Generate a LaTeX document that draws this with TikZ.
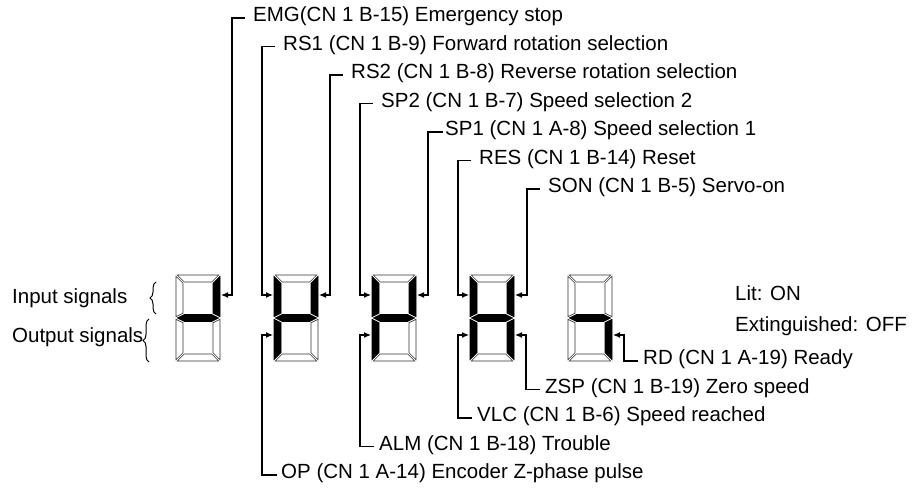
\documentclass[tikz,border=0pt]{standalone}
\usepackage{fontspec}
\setmainfont{Liberation Sans}
\usetikzlibrary{arrows.meta,decorations.pathreplacing}
\tikzset{
  segoff/.style={draw=black!80, line width=0.6pt, fill=white},
  segon/.style={draw=black, line width=0.6pt, fill=black},
  conn/.style={draw=black, line width=1.2pt, -{Latex[length=7pt,width=6pt]}},
  lbl/.style={anchor=west, inner xsep=8pt, inner ysep=0pt, text height=0.72em, text depth=0pt, font=\fontsize{20.5}{24}\selectfont},
  plain/.style={anchor=west, inner sep=0pt, text height=0.72em, text depth=0pt, font=\fontsize{20.5}{24}\selectfont},
  bracestyle/.style={draw=black, line width=1pt, decorate, decoration={brace, amplitude=6pt}}
}
% digit: #1 = left x, #2..#8 = styles of segments a b c d e f g
\newcommand\segdigit[8]{%
  \begin{scope}[shift={(#1,275)}]
    \def\W{44}\def\H{86}\def\T{7}\def\G{1.3}\def\M{43}
    \path[#2] (\G,0) -- (\W-\G,0) -- (\W-\T-\G,\T) -- (\T+\G,\T) -- cycle;
    \path[#3] (\W,\G) -- (\W,\M-\G) -- (\W-\T,\M-\T/2-\G) -- (\W-\T,\T+\G) -- cycle;
    \path[#4] (\W,\M+\G) -- (\W-\T,\M+\T/2+\G) -- (\W-\T,\H-\T-\G) -- (\W,\H-\G) -- cycle;
    \path[#5] (\G,\H) -- (\W-\G,\H) -- (\W-\T-\G,\H-\T) -- (\T+\G,\H-\T) -- cycle;
    \path[#6] (0,\M+\G) -- (\T,\M+\T/2+\G) -- (\T,\H-\T-\G) -- (0,\H-\G) -- cycle;
    \path[#7] (0,\G) -- (0,\M-\G) -- (\T,\M-\T/2-\G) -- (\T,\T+\G) -- cycle;
    \path[#8] (\G,\M) -- (\T+\G,\M-\T/2) -- (\W-\T-\G,\M-\T/2) -- (\W-\G,\M) -- (\W-\T-\G,\M+\T/2) -- (\T+\G,\M+\T/2) -- cycle;
  \end{scope}}
\begin{document}
\begin{tikzpicture}[x=1pt,y=-1pt]
\useasboundingbox (0,0) rectangle (924,489);
% digits
\segdigit{176}{segoff}{segon}{segoff}{segoff}{segoff}{segoff}{segon}
\segdigit{274}{segoff}{segon}{segoff}{segoff}{segon}{segon}{segon}
\segdigit{372}{segoff}{segon}{segoff}{segoff}{segon}{segon}{segon}
\segdigit{470}{segoff}{segon}{segon}{segoff}{segon}{segon}{segon}
\segdigit{568}{segoff}{segoff}{segon}{segoff}{segoff}{segoff}{segon}
% attachment points on segments
\coordinate (d1b) at (221,295);
\coordinate (d2f) at (273,295);
\coordinate (d2b) at (319,295);
\coordinate (d3f) at (371,295);
\coordinate (d3b) at (417,295);
\coordinate (d4f) at (469,295);
\coordinate (d4b) at (515,295);
\coordinate (d2e) at (273,335);
\coordinate (d3e) at (371,335);
\coordinate (d4e) at (469,335);
\coordinate (d4c) at (515,335);
\coordinate (d5c) at (613,335);
% corner points
\coordinate (kemg) at (232,295);
\coordinate (krs1) at (262,295);
\coordinate (krs2) at (330,295);
\coordinate (ksp2) at (360,295);
\coordinate (ksp1) at (428,295);
\coordinate (kres) at (458,295);
\coordinate (kson) at (527,295);
\coordinate (kop) at (262,335);
\coordinate (kalm) at (360,335);
\coordinate (kvlc) at (458,335);
\coordinate (kzsp) at (526,335);
\coordinate (krd) at (624,335);
% input labels
\node[lbl] (emg) at (245,18) {EMG(CN 1 B-15) Emergency stop};
\node[lbl] (rs1) at (275,46.5) {RS1 (CN 1 B-9) Forward rotation selection};
\node[lbl] (rs2) at (343,75) {RS2 (CN 1 B-8) Reverse rotation selection};
\node[lbl] (sp2) at (373,103.5) {SP2 (CN 1 B-7) Speed selection 2};
\node[lbl, inner xsep=2pt] (sp1) at (443,132) {SP1 (CN 1 A-8) Speed selection 1};
\node[lbl] (res) at (471,160.5) {RES (CN 1 B-14) Reset};
\node[lbl] (son) at (540,189) {SON (CN 1 B-5) Servo-on};
% output labels
\node[lbl, inner xsep=5pt] (rd) at (638,361) {RD (CN 1 A-19) Ready};
\node[lbl, inner xsep=5pt] (zsp) at (540,389.5) {ZSP (CN 1 B-19) Zero speed};
\node[lbl, inner xsep=5pt] (vlc) at (472,418) {VLC (CN 1 B-6) Speed reached};
\node[lbl, inner xsep=5pt] (alm) at (374,446.5) {ALM (CN 1 B-18) Trouble};
\node[lbl, inner xsep=4pt] (op) at (277,475) {OP (CN 1 A-14) Encoder Z-phase pulse};
% connectors
\draw[conn] (emg.west) -| (kemg) -- (d1b);
\draw[conn] (rs1.west) -| (krs1) -- (d2f);
\draw[conn] (rs2.west) -| (krs2) -- (d2b);
\draw[conn] (sp2.west) -| (ksp2) -- (d3f);
\draw[conn] (sp1.west) -| (ksp1) -- (d3b);
\draw[conn] (res.west) -| (kres) -- (d4f);
\draw[conn] (son.west) -| (kson) -- (d4b);
\draw[conn] (op.west) -| (kop) -- (d2e);
\draw[conn] (alm.west) -| (kalm) -- (d3e);
\draw[conn] (vlc.west) -| (kvlc) -- (d4e);
\draw[conn] (zsp.west) -| (kzsp) -- (d4c);
\draw[conn] (rd.west) -| (krd) -- (d5c);
% side texts
\node[plain] (insig) at (12,300) {Input signals};
\node[plain] (outsig) at (12,339) {Output signals};
\coordinate (bi1) at (156,314);
\coordinate (bi2) at (156,282);
\coordinate (bo1) at (149,362);
\coordinate (bo2) at (149,319);
\draw[bracestyle] (bi1) -- (bi2);
\draw[bracestyle] (bo1) -- (bo2);
\node[plain] (lit) at (735,297) {Lit: ON};
\node[plain] (ext) at (735,328) {Extinguished: OFF};
\end{tikzpicture}
\end{document}
